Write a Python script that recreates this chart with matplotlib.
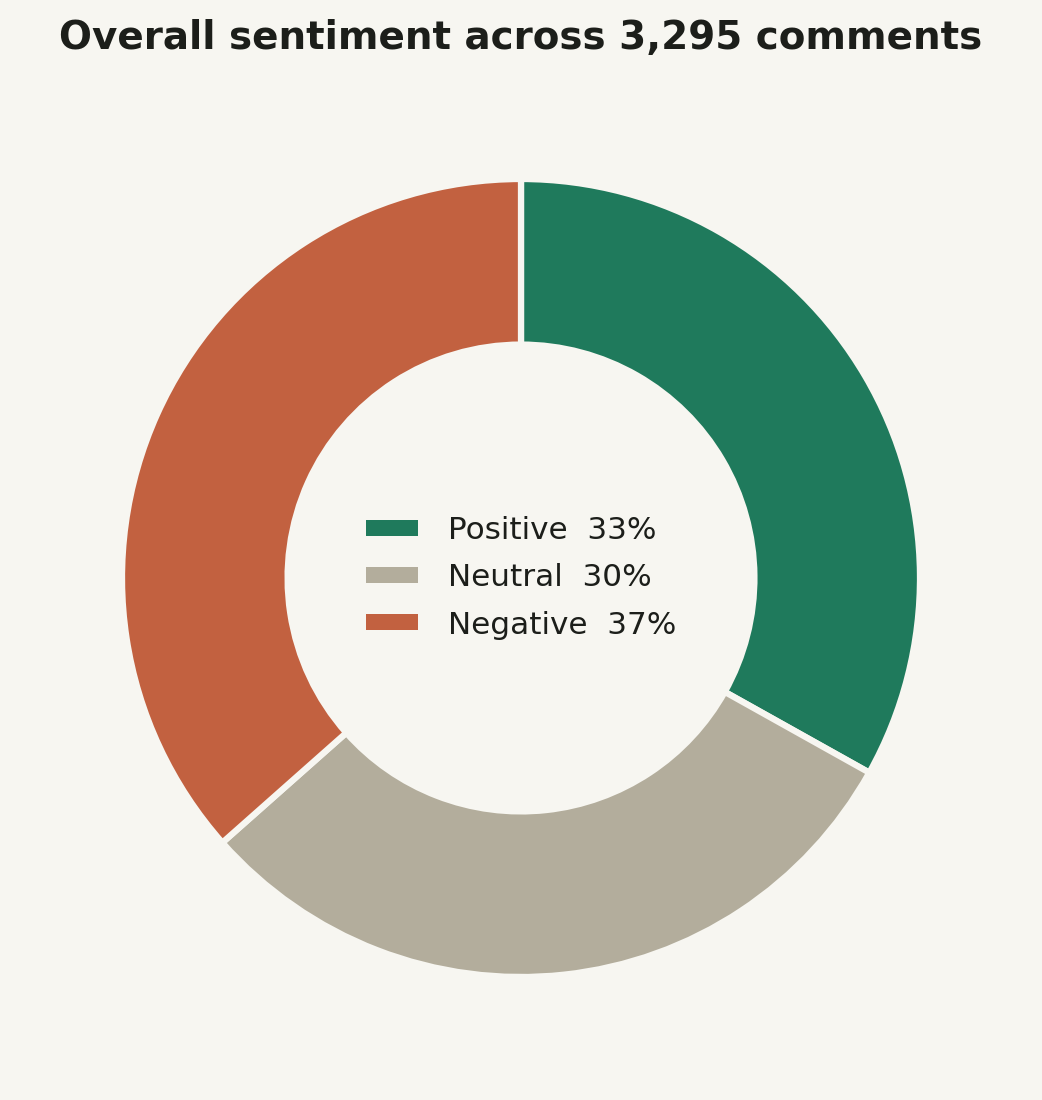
import matplotlib
matplotlib.use("Agg")
import matplotlib.pyplot as plt
from matplotlib.patches import Patch

categories = ["Positive", "Neutral", "Negative"]
counts = [1091, 1000, 1204]
colors = ["#1f7a5c", "#b3ad9c", "#c26140"]
title = "Overall sentiment across 3,295 comments"

bg = "#f7f6f1"
txt = "#1c1e1a"

fig = plt.figure(figsize=(10.42, 11.0), dpi=100, facecolor=bg)
W, H = 1042, 1100
cx, cy, r = 521, 578, 399
ax = fig.add_axes([(cx - r) / W, (H - cy - r) / H, 2 * r / W, 2 * r / H])
ax.set_facecolor(bg)

wedges, _ = ax.pie(counts, colors=colors, startangle=90, counterclock=False,
                   radius=1.0, wedgeprops=dict(width=0.415, edgecolor=bg, linewidth=4.5))
ax.set_xlim(-1, 1)
ax.set_ylim(-1, 1)
ax.set_aspect("equal")
ax.axis("off")

total = sum(counts)
labels = [f"{c}  {round(100 * v / total)}%" for c, v in zip(categories, counts)]
handles = [Patch(facecolor=col, edgecolor="none") for col in colors]
leg = ax.legend(handles, labels, loc="center", frameon=False, fontsize=22.4,
                handlelength=1.7, handleheight=0.42, handletextpad=0.95,
                labelspacing=0.58)
for t in leg.get_texts():
    t.set_color(txt)

fig.text(0.5, 1 - 38 / H, title, ha="center", va="center", fontsize=28,
         fontweight="bold", color=txt)

fig.savefig("out.png", dpi=100, facecolor=bg)
